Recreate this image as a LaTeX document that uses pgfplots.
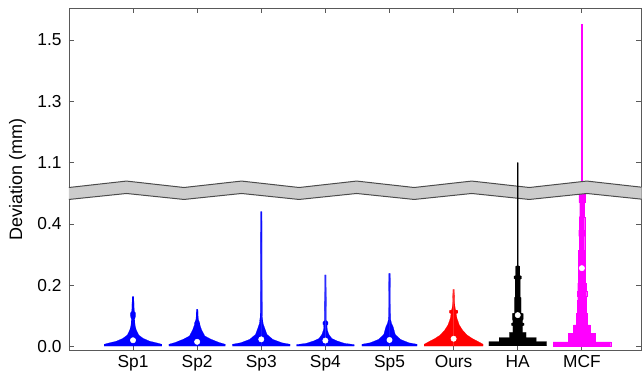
\documentclass[border=0pt]{standalone}
\usepackage{pgfplots}
\pgfplotsset{compat=1.18}
\usepackage{pgfplotstable}
\usepackage{fontspec}
\setmainfont{Liberation Sans}
\definecolor{vblue}{RGB}{0,0,255}
\definecolor{vred}{RGB}{255,0,0}
\definecolor{vmag}{RGB}{255,0,255}

% violin half-profiles: y value, half width (category units)
\pgfplotstableread{
y w
0.002 0
0.002 0.45
0.008 0.45
0.012 0.38
0.018 0.26
0.027 0.16
0.038 0.09
0.055 0.05
0.070 0.032
0.090 0.026
0.100 0.040
0.110 0.040
0.115 0.020
0.163 0.012
0.163 0
}\vSpOne
\pgfplotstableread{
y w
0.002 0
0.002 0.44
0.008 0.44
0.014 0.34
0.025 0.21
0.035 0.12
0.055 0.07
0.070 0.045
0.078 0.040
0.085 0.026
0.090 0.018
0.122 0.012
0.122 0
}\vSpTwo
\pgfplotstableread{
y w
0.002 0
0.002 0.45
0.008 0.45
0.013 0.32
0.024 0.18
0.040 0.09
0.060 0.055
0.075 0.030
0.100 0.016
0.440 0.011
0.440 0
}\vSpThree
\pgfplotstableread{
y w
0.002 0
0.002 0.45
0.007 0.45
0.011 0.30
0.019 0.18
0.027 0.10
0.040 0.055
0.055 0.030
0.070 0.025
0.073 0.040
0.080 0.040
0.085 0.016
0.234 0.011
0.234 0
}\vSpFour
\pgfplotstableread{
y w
0.002 0
0.002 0.43
0.008 0.43
0.013 0.30
0.024 0.17
0.040 0.09
0.065 0.057
0.075 0.034
0.090 0.016
0.239 0.011
0.239 0
}\vSpFive
\pgfplotstableread{
y w
0.002 0
0.002 0.46
0.008 0.46
0.016 0.39
0.027 0.29
0.038 0.21
0.054 0.14
0.071 0.088
0.093 0.052
0.108 0.040
0.110 0.065
0.118 0.065
0.120 0.030
0.135 0.018
0.187 0.011
0.187 0
}\vOurs
\pgfplotstableread{
y w
0.003 0
0.003 0.45
0.017 0.45
0.017 0.29
0.030 0.29
0.030 0.13
0.047 0.13
0.047 0.075
0.068 0.075
0.070 0.10
0.076 0.10
0.078 0.075
0.085 0.075
0.090 0.085
0.108 0.085
0.110 0.052
0.160 0.052
0.162 0.040
0.220 0.040
0.222 0.058
0.230 0.058
0.232 0.032
0.262 0.032
0.264 0.010
1.100 0.010
1.100 0
}\vHA
\pgfplotstableread{
y w
0.002 0
0.002 0.45
0.016 0.45
0.016 0.21
0.044 0.21
0.044 0.13
0.071 0.13
0.071 0.088
0.109 0.088
0.109 0.073
0.152 0.073
0.152 0.065
0.165 0.065
0.165 0.075
0.180 0.075
0.180 0.065
0.207 0.065
0.207 0.055
0.315 0.055
0.315 0.044
0.360 0.044
0.360 0.050
0.380 0.050
0.380 0.044
0.424 0.044
0.424 0.036
0.470 0.036
0.470 0.045
0.510 0.045
0.510 0.010
1.551 0.010
1.551 0
}\vMCF
\pgfplotstableread{
x y
1 0.021
2 0.016
3 0.024
4 0.020
5 0.022
6 0.026
7 0.103
8 0.256
}\medians

\newcommand{\violin}[3]{%
  \addplot[fill=#1, draw=#1, line width=0.1pt] table[x expr=#2+\thisrow{w}, y=y] {#3} -- cycle;
  \addplot[fill=#1, draw=#1, line width=0.1pt] table[x expr=#2-\thisrow{w}, y=y] {#3} -- cycle;
}

\begin{document}
\begin{tikzpicture}
\path[use as bounding box] (-51.675pt,-21.975pt) rectangle (429.825pt,263.025pt);
\begin{axis}[
  at={(0,0)}, anchor=south west,
  scale only axis, width=429.45pt, height=257.0pt,
  xmin=0, xmax=8.93, ymin=-0.013, ymax=1.604,
  y coord trafo/.code={\pgfmathparse{#1>0.75?#1-0.5:#1}},
  xtick={1,2,3,4,5,6,7,8},
  xticklabels={Sp1,Sp2,Sp3,Sp4,Sp5,Ours,HA,MCF},
  ytick={0,0.2,0.4,1.1,1.3,1.5},
  yticklabels={0.0,0.2,0.4,1.1,1.3,1.5},
  /pgf/number format/assume math mode=true,
  tick label style={font=\fontsize{13}{15}\selectfont},
  yticklabel style={xshift=-2pt},
  ylabel={Deviation (mm)},
  ylabel style={font=\fontsize{13.5}{16}\selectfont, at={(axis description cs:-0.0898,0.5)}, anchor=center},
  axis line style={black!65, line width=0.6pt},
  tick style={black!65, line width=0.6pt},
  major tick length=3.8pt,
]
\violin{vblue}{1}{\vSpOne}
\violin{vblue}{2}{\vSpTwo}
\violin{vblue}{3}{\vSpThree}
\violin{vblue}{4}{\vSpFour}
\violin{vblue}{5}{\vSpFive}
\violin{vred}{6}{\vOurs}
\violin{vmag}{8}{\vMCF}
% axis break band
\fill[black!20] (axis cs:0,0.519) -- (axis cs:0.8975,0.540) -- (axis cs:1.795,0.519) -- (axis cs:2.6925,0.540) -- (axis cs:3.59,0.519) -- (axis cs:4.4875,0.540) -- (axis cs:5.385,0.519) -- (axis cs:6.2825,0.540) -- (axis cs:7.18,0.519) -- (axis cs:8.0775,0.540) -- (axis cs:8.93,0.520)
 -- (axis cs:8.93,0.481) -- (axis cs:8.0775,0.4995) -- (axis cs:7.18,0.480) -- (axis cs:6.2825,0.4995) -- (axis cs:5.385,0.480) -- (axis cs:4.4875,0.4995) -- (axis cs:3.59,0.480) -- (axis cs:2.6925,0.4995) -- (axis cs:1.795,0.480) -- (axis cs:0.8975,0.4995) -- (axis cs:0,0.480) -- cycle;
\draw[black!70, line width=0.75pt] (axis cs:0,0.519) -- (axis cs:0.8975,0.540) -- (axis cs:1.795,0.519) -- (axis cs:2.6925,0.540) -- (axis cs:3.59,0.519) -- (axis cs:4.4875,0.540) -- (axis cs:5.385,0.519) -- (axis cs:6.2825,0.540) -- (axis cs:7.18,0.519) -- (axis cs:8.0775,0.540) -- (axis cs:8.93,0.520);
\draw[black!70, line width=0.75pt] (axis cs:0,0.480) -- (axis cs:0.8975,0.4995) -- (axis cs:1.795,0.480) -- (axis cs:2.6925,0.4995) -- (axis cs:3.59,0.480) -- (axis cs:4.4875,0.4995) -- (axis cs:5.385,0.480) -- (axis cs:6.2825,0.4995) -- (axis cs:7.18,0.480) -- (axis cs:8.0775,0.4995) -- (axis cs:8.93,0.481);
\violin{black}{7}{\vHA}
\addplot[only marks, mark=*, mark size=2pt, mark options={fill=white, draw=white}] table[x=x, y=y] {\medians};
\end{axis}
\end{tikzpicture}
\end{document}
